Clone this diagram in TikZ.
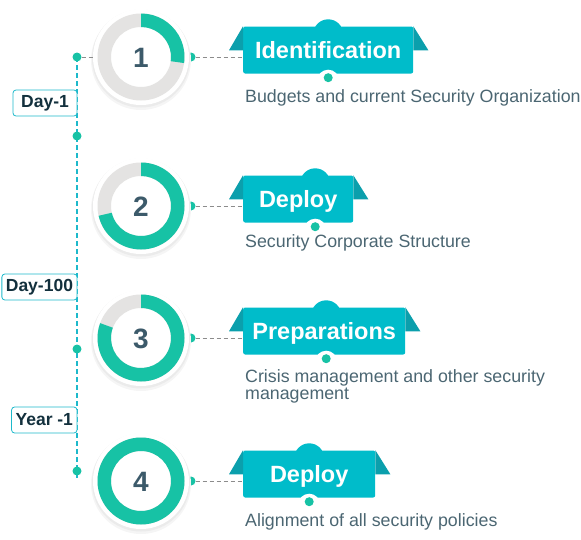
\documentclass[tikz,border=0pt]{standalone}
\usepackage{fontspec}
\setmainfont{Liberation Sans}
\usepackage{tikz}
\usetikzlibrary{backgrounds}
\definecolor{ringteal}{HTML}{17C2A5}
\definecolor{ringgray}{HTML}{E4E3E2}
\definecolor{bannerteal}{HTML}{00BCCA}
\definecolor{wingteal}{HTML}{0B9FAC}
\definecolor{lineteal}{HTML}{1DB9CB}
\definecolor{numink}{HTML}{3C5A6A}
\definecolor{descink}{HTML}{4B6672}
\definecolor{tagink}{HTML}{13303D}
\definecolor{dashgray}{HTML}{8C8C8C}

\begin{document}
\begin{tikzpicture}[x=1pt, y=-1pt,
  dot/.style={circle, fill=ringteal, inner sep=0pt, minimum size=9pt},
  numtext/.style={circle, minimum size=96pt, inner sep=0pt, text=numink,
    font=\fontsize{28}{28}\selectfont\bfseries, text height=20pt, text depth=0pt},
  banner/.style={fill=bannerteal, rounded corners=2pt, minimum height=47pt,
    inner sep=0pt, text=white, font=\fontsize{23.5}{24}\selectfont\bfseries,
    text height=17pt, text depth=0pt},
  desc/.style={text=descink, inner sep=0pt, align=left,
    font=\fontsize{17.8}{17.5}\selectfont},
  daytag/.style={draw=lineteal, line width=0.8pt, fill=white, rounded corners=3pt,
    minimum height=26pt, minimum width=64pt, inner xsep=4pt, text=tagink,
    font=\fontsize{17.5}{17.5}\selectfont\bfseries},
  dashconn/.style={dashgray, line width=0.8pt, dash pattern=on 4pt off 3pt},
  timeline/.style={lineteal, line width=1.2pt, dash pattern=on 5pt off 3pt}]
  \useasboundingbox (0,0) rectangle (581,539);

  % #1 id, #2 row y, #3 sweep, #4 banner width, #5 title, #6 bump shift,
  % #7 text, #8 text baseline below banner
  \newcommand{\stagerow}[8]{%
    \node[dot] (r#1) at (191,#2) {};
    \fill[black!4] (141,#2+3) circle (50);
    \fill[black!8] (141,#2+1.5) circle (49);
    \fill[white] (141,#2) circle (48);
    \fill[ringgray, even odd rule] (141,#2) circle (43.5) circle (30);
    \begin{scope}[shift={(141,#2)}]
      \fill[ringteal] (-90:43.5) arc[start angle=-90, end angle=-90+#3, radius=43.5]
        -- (-90+#3:30) arc[start angle=-90+#3, end angle=-90, radius=30] -- cycle;
    \end{scope}
    \node[numtext] (c#1) at (141,#2) {#1};
    \node[banner, minimum width=#4, anchor=west] (b#1) at (243,#2-7) {#5};
    \fill[wingteal] (b#1.north west) -- ++(-14,24) -- ++(14,0) -- cycle;
    \fill[wingteal] (b#1.north east) -- ++(15,24) -- ++(-15,0) -- cycle;
    \begin{pgfonlayer}{background}
      \fill[bannerteal] ([xshift=#6]b#1.north) ++(0,8) circle (15);
    \end{pgfonlayer}
    \fill[white] ([xshift=#6]b#1.south) ++(0,7) circle (11);
    \node[dot] (n#1) at ([xshift=#6, yshift=-4pt]b#1.south) {};
    \node[desc, anchor=base west] (t#1) at ([xshift=2pt, yshift=-#8pt]b#1.south west) {#7};
    \draw[dashconn] (r#1) -- (r#1 -| b#1.west);
  }

  \stagerow{1}{57}{98}{170}{Identification}{0}{Budgets and current Security Organization}{29}
  \stagerow{2}{206}{257}{110}{Deploy}{17}{Security Corporate Structure}{24.5}
  \stagerow{3}{338}{290}{162}{Preparations}{2}{Crisis management and other security\\management}{45}
  \stagerow{4}{481}{360}{132}{Deploy}{0}{Alignment of all security policies}{29}

  % timeline
  \node[dot] (d1) at (77,57) {};
  \node[dot] (d2) at (77,136) {};
  \node[dot] (d3) at (77,349) {};
  \node[dot] (d4) at (77,471) {};
  \coordinate (tlend) at (77,479);
  \node[daytag, anchor=east] (l1) at (77.4,103) {Day-1};
  \node[daytag, anchor=east] (l2) at (77.4,287) {Day-100};
  \node[daytag, anchor=east] (l3) at (77.4,420) {Year -1};
  \begin{pgfonlayer}{background}
    \draw[timeline] (d1.center) -- (tlend);
  \end{pgfonlayer}
  \draw[dashconn] (d1) -- (c1.west);
\end{tikzpicture}
\end{document}
